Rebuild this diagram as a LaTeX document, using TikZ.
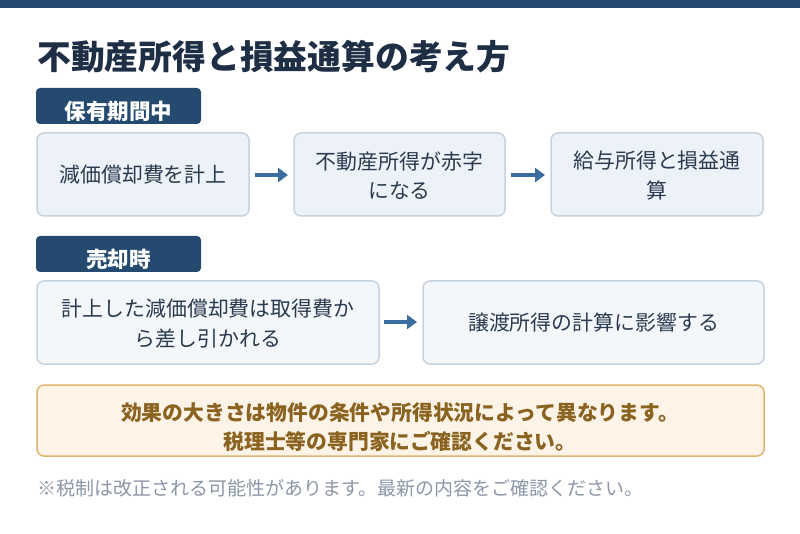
\documentclass[tikz,border=0pt]{standalone}
\usepackage{fontspec}
\setmainfont{Noto Sans CJK JP}
\usetikzlibrary{arrows.meta}
\definecolor{navy}{HTML}{244A6F}
\definecolor{titlec}{HTML}{1E2F45}
\definecolor{boxfill}{HTML}{EDF2F8}
\definecolor{boxfillb}{HTML}{F4F7FA}
\definecolor{boxline}{HTML}{C5D3E1}
\definecolor{arrc}{HTML}{3B6E9E}
\definecolor{txt}{HTML}{2B3B4F}
\definecolor{notefill}{HTML}{FDF3E6}
\definecolor{noteline}{HTML}{E0B56F}
\definecolor{notetxt}{HTML}{8B6321}
\definecolor{foot}{HTML}{8C97A8}
\begin{document}
\begin{tikzpicture}[x=1pt,y=-1pt,
  tagbox/.style={fill=navy,rounded corners=4pt},
  tagtext/.style={text=white,font=\fontsize{21.5}{24}\selectfont\bfseries,anchor=center},
  flowbox/.style={draw=boxline,line width=1.5pt,rounded corners=7pt,fill=boxfill},
  flowboxb/.style={flowbox,fill=boxfillb},
  boxtext/.style={text=txt,font=\fontsize{20.9}{29.5}\selectfont,align=center,anchor=center},
  arr/.style={draw=arrc,line width=3.5pt,-{Triangle[length=10pt,width=14pt]}}]
\useasboundingbox (0,0) rectangle (800,534);
\fill[white] (0,0) rectangle (800,534);
\fill[navy] (0,0) rectangle (800,8);
\node[anchor=west,text=titlec,font=\fontsize{33.8}{38}\selectfont\bfseries,inner sep=0pt] (title) at (37,57) {不動産所得と損益通算の考え方};
% tag 1
\fill[tagbox] (36,88) rectangle (201,124);
\node[tagtext] (tag1) at (118.5,111) {保有期間中};
% row 1
\draw[flowbox] (37,133) rectangle (249,216);
\node[boxtext] (b1) at (143,174.5) {減価償却費を計上};
\draw[flowbox] (294,133) rectangle (505,216);
\node[boxtext] (b2) at (399.5,175.5) {不動産所得が赤字\\になる};
\draw[flowbox] (551,133) rectangle (763,216);
\node[boxtext] (b3) at (657,175.5) {給与所得と損益通\\算};
\coordinate (b1e) at (249,175); \coordinate (b2w) at (294,175);
\coordinate (b2e) at (505,175); \coordinate (b3w) at (551,175);
\draw[arr] ([xshift=6]b1e) -- ([xshift=-6]b2w);
\draw[arr] ([xshift=6]b2e) -- ([xshift=-6]b3w);
% tag 2
\fill[tagbox] (36,236) rectangle (201,272);
\node[tagtext] (tag2) at (118.5,259) {売却時};
% row 2
\draw[flowboxb] (37,281) rectangle (379,364);
\node[boxtext] (b4) at (208,323.5) {計上した減価償却費は取得費か\\ら差し引かれる};
\draw[flowboxb] (423,281) rectangle (764,364);
\node[boxtext] (b5) at (593.5,322.5) {譲渡所得の計算に影響する};
\coordinate (b4e) at (379,322); \coordinate (b5w) at (423,322);
\draw[arr] ([xshift=5]b4e) -- ([xshift=-6]b5w);
% note
\draw[draw=noteline,line width=1.5pt,fill=notefill,rounded corners=7pt] (37,385) rectangle (764,456);
\node[text=notetxt,font=\fontsize{20.8}{29.5}\selectfont\bfseries,align=center] (note) at (400,427) {効果の大きさは物件の条件や所得状況によって異なります。\\税理士等の専門家にご確認ください。};
% footer
\node[anchor=west,text=foot,font=\fontsize{19}{22}\selectfont,inner sep=0pt] (foot) at (37,488) {※税制は改正される可能性があります。最新の内容をご確認ください。};
\end{tikzpicture}
\end{document}
